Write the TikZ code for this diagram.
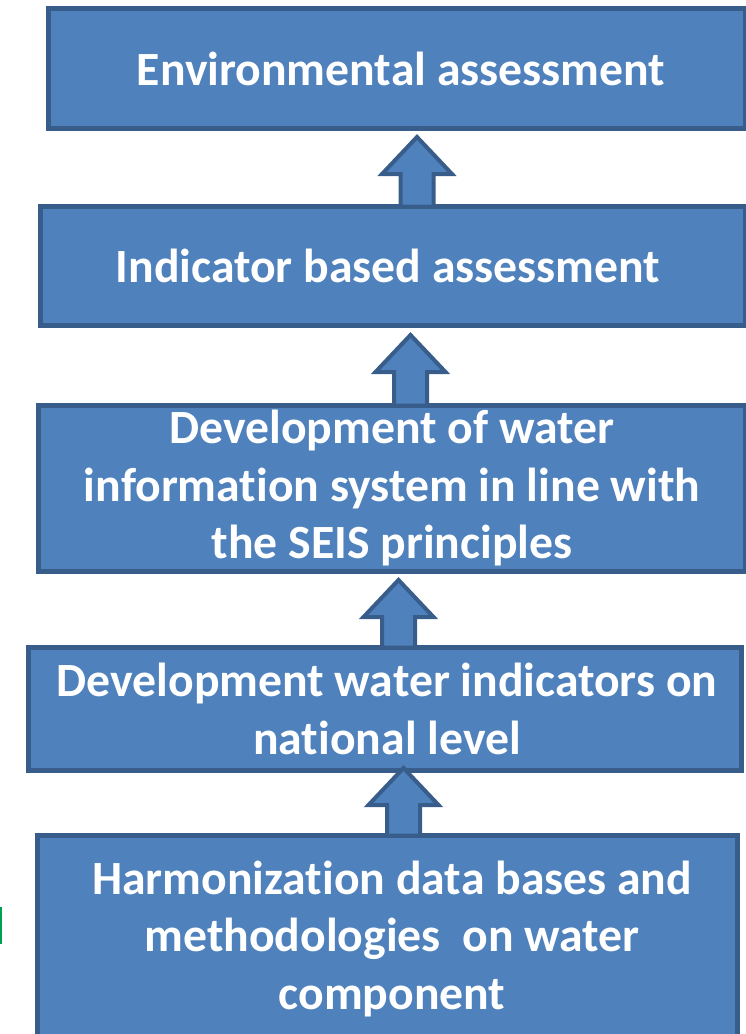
\documentclass[tikz,border=0pt]{standalone}
\usepackage{fontspec}
\setmainfont{Carlito}[Ligatures={NoCommon}]
\usetikzlibrary{calc}
\definecolor{boxfill}{HTML}{4F81BD}
\definecolor{boxline}{HTML}{385D8A}
\definecolor{markgreen}{HTML}{00A050}
\newcommand\blkarrow[4]{%
  \draw[barrow] let \p1=([xshift=#3pt]#1.north), \p2=(#2.south),
    \n1={\y2-(#4pt)}, \n2={\y2-(#4pt)-37pt} in
    ({\x1-16.5pt},{\y1-2.5pt}) -- ({\x1-16.5pt},\n2) -- ({\x1-35pt},\n2)
    -- (\x1,\n1) -- ({\x1+35pt},\n2) -- ({\x1+16.5pt},\n2)
    -- ({\x1+16.5pt},{\y1-2.5pt}) -- cycle;}
\begin{document}
\begin{tikzpicture}[x=1pt,y=-1pt,
  blk/.style={draw=boxline, fill=boxfill, line width=5pt, rectangle, inner sep=0pt},
  txt/.style={inner sep=0pt, text=white, font=\bfseries\fontsize{47.7}{57.5}\selectfont, align=center},
  barrow/.style={draw=boxline, fill=boxfill, line width=4pt, line join=miter}]
\useasboundingbox (0,0) rectangle (745,1034);
\node[blk, minimum width=697pt, minimum height=120pt] (b1) at (397,68.5) {};
\node[blk, minimum width=705pt, minimum height=119pt] (b2) at (393,266) {};
\node[blk, minimum width=707pt, minimum height=166pt] (b3) at (392,488.5) {};
\node[blk, minimum width=713pt, minimum height=123pt] (b4) at (385,709) {};
\node[blk, minimum width=700pt, minimum height=207pt] (b5) at (387.5,939) {};
\node[txt] (t1) at ([xshift=4pt]b1.center) {Environmental assessment};
\node[txt] (t2) at ([xshift=-5pt]b2.center) {Indicator based assessment};
\node[txt] (t3) at (b3.center) {Development of water\\information system in line with\\the SEIS principles};
\node[txt] (t4) at ([xshift=2pt]b4.center) {Development water indicators on\\national level};
\node[txt] (t5) at ([xshift=4.5pt]b5.center) {Harmonization data bases and\\methodologies\ \ on water\\component};
\blkarrow{b2}{b1}{24}{6}
\blkarrow{b3}{b2}{18.5}{7}
\blkarrow{b4}{b3}{13.5}{6}
\blkarrow{b5}{b4}{16}{-5}
\fill[markgreen] (0,907) rectangle (2,944);
\end{tikzpicture}
\end{document}
